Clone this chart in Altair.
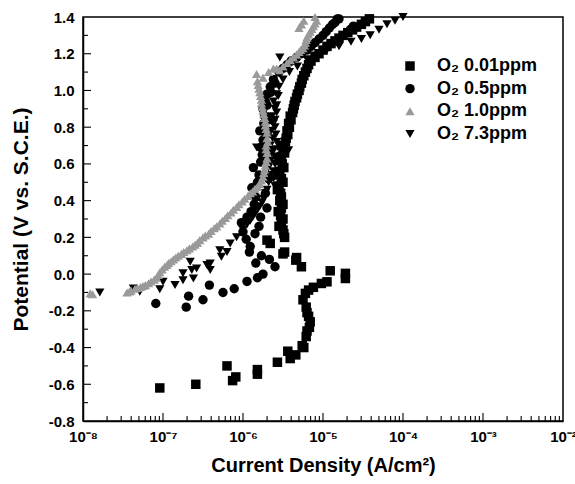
import altair as alt
import pandas as pd

series_names = ["O\u2082 0.01ppm", "O\u2082 0.5ppm", "O\u2082 1.0ppm", "O\u2082 7.3ppm"]

# log10(current density) and potential for each series
sq_logi = [-7.04, -6.59, -6.20, -6.13, -6.09, -5.82, -5.82, -5.57, -5.44, -5.41, -5.34, -5.26, -5.24,
           -5.21, -5.20, -5.17, -5.16, -5.18, -5.20, -5.21, -5.25, -5.22, -5.18, -5.12, -5.02, -4.95,
           -4.91, -4.72, -4.72, -5.27, -5.34, -5.33, -5.50, -5.48, -5.66, -5.48, -5.70,
           -5.50, -5.52, -5.53, -5.52, -5.54, -5.53, -5.55, -5.52, -5.54, -5.51, -5.52, -5.50, -5.47,
           -5.44, -5.42, -5.40, -5.38, -5.36, -5.33, -5.30, -5.27, -5.24, -5.20, -5.15, -5.05, -4.95,
           -4.85, -4.75, -4.63, -4.52, -4.42,
           -5.49, -5.55, -5.50, -5.56, -5.50, -5.52, -5.57, -5.50, -5.56, -5.49, -5.55, -5.48, -5.52,
           -5.46, -5.45, -5.43, -5.41, -5.37, -5.35, -5.32, -5.29, -5.26, -5.22, -5.18, -5.10, -5.00,
           -4.90, -4.80, -4.69, -4.58, -4.47]
sq_v = [-0.62, -0.60, -0.50, -0.58, -0.56, -0.52, -0.545, -0.48, -0.42, -0.46, -0.44, -0.39, -0.40,
        -0.34, -0.31, -0.29, -0.26, -0.23, -0.21, -0.18, -0.14, -0.105, -0.087, -0.072, -0.051, -0.042,
        0.018, 0.004, -0.024, 0.04, 0.076, 0.09, 0.11, 0.12, 0.167, 0.20, 0.185,
        0.24, 0.28, 0.32, 0.36, 0.40, 0.44, 0.48, 0.52, 0.56, 0.60, 0.64, 0.68, 0.72,
        0.76, 0.80, 0.84, 0.88, 0.92, 0.96, 1.00, 1.04, 1.08, 1.12, 1.16, 1.20, 1.24,
        1.27, 1.30, 1.33, 1.36, 1.39,
        0.22, 0.26, 0.30, 0.34, 0.38, 0.42, 0.46, 0.50, 0.54, 0.58, 0.62, 0.66, 0.70,
        0.74, 0.78, 0.82, 0.86, 0.90, 0.94, 0.98, 1.02, 1.06, 1.10, 1.14, 1.18, 1.22,
        1.255, 1.285, 1.315, 1.345, 1.375]

ci_logi = [-7.09, -6.71, -6.68, -6.50, -6.42, -6.25, -6.11, -5.95, -5.82, -5.75, -5.60, -5.67, -5.77,
           -5.84, -5.92, -5.91, -5.96, -6.00, -6.02, -5.95, -5.90, -5.86, -5.84, -5.89, -5.82, -5.80,
           -5.87, -5.78, -5.76, -5.78, -5.75, -5.79, -5.74, -5.73, -5.75, -5.72, -5.70, -5.66, -5.62,
           -5.55, -5.45, -5.33, -5.20, -5.10, -5.00, -4.92, -4.85, -4.80, -4.66, -4.62,
           -5.70, -5.72, -5.68, -5.70, -5.69, -5.71, -5.68, -5.70, -5.65, -5.60, -5.50, -5.40, -5.27,
           -5.15, -5.05, -4.96, -4.88, -4.82, -5.80, -5.85, -5.78]
ci_v = [-0.16, -0.18, -0.12, -0.14, -0.06, -0.10, -0.08, -0.04, -0.02, 0.00, 0.04, 0.08, 0.10,
        0.06, 0.12, 0.15, 0.19, 0.23, 0.28, 0.31, 0.34, 0.38, 0.42, 0.47, 0.50, 0.54,
        0.58, 0.61, 0.65, 0.69, 0.73, 0.78, 0.82, 0.86, 0.90, 0.94, 0.98, 1.02, 1.06,
        1.10, 1.14, 1.18, 1.22, 1.26, 1.30, 1.34, 1.37, 1.39, 1.33, 1.35,
        0.36, 0.44, 0.52, 0.60, 0.68, 0.76, 0.84, 0.92, 0.99, 1.04, 1.12, 1.16, 1.20,
        1.24, 1.28, 1.32, 1.36, 1.39, 0.26, 0.22, 0.31]

gr_logi = [-7.91, -7.88, -7.45, -7.40, -7.35, -7.28, -7.22, -7.15, -7.08, -7.04, -6.98, -6.93, -6.87,
           -6.81, -6.74, -6.67, -6.60, -6.54, -6.47, -6.40, -6.33, -6.26, -6.19, -6.12, -6.05, -5.98,
           -5.91, -5.85, -5.79, -5.75, -5.73, -5.71, -5.70, -5.71, -5.70, -5.70, -5.72, -5.73, -5.75,
           -5.77, -5.78, -5.80, -5.82, -5.83, -5.75, -5.62, -5.54, -5.45, -5.37, -5.30, -5.25, -5.22,
           -5.20, -5.16, -5.12, -5.08, -5.27, -5.10,
           -7.42, -7.32, -7.25, -7.18, -7.11, -7.06, -7.01, -6.95, -6.90, -6.84, -6.77, -6.70, -6.63,
           -6.57, -6.50, -6.43, -6.36, -6.29, -6.22, -6.15, -6.08, -6.01, -5.94, -5.88, -5.82, -5.77,
           -5.74, -5.72, -5.70, -5.71, -5.69, -5.71, -5.72, -5.74, -5.76, -5.77, -5.79, -5.81, -5.68,
           -5.58, -5.50, -5.41, -5.33, -5.28, -5.23, -5.21, -5.18, -5.14, -5.10, -5.30, -5.24]
gr_v = [-0.105, -0.11, -0.10, -0.09, -0.08, -0.07, -0.06, -0.04, -0.02, 0.01, 0.04, 0.06, 0.08,
        0.10, 0.12, 0.14, 0.16, 0.185, 0.21, 0.235, 0.26, 0.29, 0.32, 0.35, 0.38, 0.41,
        0.44, 0.465, 0.49, 0.53, 0.57, 0.61, 0.66, 0.70, 0.74, 0.77, 0.81, 0.85, 0.89,
        0.93, 0.97, 1.01, 1.05, 1.09, 1.07, 1.12, 1.11, 1.15, 1.18, 1.21, 1.23, 1.26,
        1.29, 1.32, 1.35, 1.38, 1.36, 1.40,
        -0.095, -0.075, -0.065, -0.05, -0.03, -0.005, 0.025, 0.05, 0.07, 0.09, 0.11, 0.13, 0.15,
        0.17, 0.20, 0.22, 0.25, 0.275, 0.305, 0.335, 0.365, 0.395, 0.425, 0.45, 0.475, 0.51,
        0.55, 0.59, 0.63, 0.68, 0.72, 0.79, 0.83, 0.87, 0.91, 0.95, 0.99, 1.03, 1.10,
        1.12, 1.13, 1.165, 1.195, 1.22, 1.245, 1.275, 1.305, 1.335, 1.365, 1.34, 1.38]

tr_logi = [-7.79, -7.37, -7.29, -7.04, -7.00, -6.85, -6.75, -6.75, -6.62, -6.64, -6.66, -6.58, -6.45,
           -6.41, -6.41, -6.27, -6.20, -6.29, -6.16, -6.08, -6.00, -5.91, -5.85, -5.79, -5.74, -5.70,
           -5.68, -5.66, -5.68, -5.65, -5.83, -5.43, -5.64, -5.66, -5.63, -5.65, -5.62, -5.64, -5.60,
           -5.62, -5.58, -5.55, -5.50, -5.42, -5.32, -5.54, -5.20, -5.10, -4.95, -4.80, -4.65, -4.52,
           -4.41, -4.30, -4.20, -4.10, -4.00,
           -5.62, -5.60, -5.61, -5.59, -5.60, -5.58, -5.56, -5.95, -5.88, -5.82, -5.76, -5.72, -5.60,
           -5.62, -5.60, -5.58, -5.60, -5.58]
tr_v = [-0.10, -0.078, -0.096, -0.083, -0.042, -0.06, -0.033, 0.004, -0.024, 0.022, 0.067, 0.03, 0.049,
        0.022, 0.058, 0.094, 0.12, 0.13, 0.167, 0.20, 0.24, 0.29, 0.33, 0.37, 0.41, 0.46,
        0.50, 0.54, 0.58, 0.62, 0.69, 0.675, 0.66, 0.70, 0.74, 0.78, 0.82, 0.86, 0.90,
        0.94, 0.98, 1.02, 1.06, 1.10, 1.13, 1.18, 1.17, 1.19, 1.22, 1.24, 1.265, 1.28,
        1.30, 1.33, 1.36, 1.38, 1.40,
        0.52, 0.60, 0.68, 0.76, 0.84, 0.92, 0.97, 0.27, 0.31, 0.35, 0.39, 0.44, 0.48,
        0.56, 0.64, 0.72, 0.80, 0.88]

x_major = [1e-8, 1e-7, 1e-6, 1e-5, 1e-4, 1e-3, 1e-2]
x_minor = [k * 10.0 ** e for e in range(-8, -2) for k in range(2, 10)]
y_major = [-0.8, -0.6, -0.4, -0.2, 0.0, 0.2, 0.4, 0.6, 0.8, 1.0, 1.2, 1.4]
y_minor = [-0.7, -0.5, -0.3, -0.1, 0.1, 0.3, 0.5, 0.7, 0.9, 1.1, 1.3]

rows = []
for name, li, vv in [(series_names[0], sq_logi, sq_v), (series_names[1], ci_logi, ci_v),
                     (series_names[3], tr_logi, tr_v), (series_names[2], gr_logi, gr_v)]:
    for a, b in zip(li, vv):
        rows.append({"series": name, "current": 10.0 ** a, "potential": b})
df = pd.DataFrame(rows)

FONT = "Liberation Sans"
xscale = alt.Scale(type="log", domain=[1e-8, 1e-2], nice=False)
yscale = alt.Scale(domain=[-0.8, 1.4], nice=False, zero=False)

shape_scale = alt.Scale(domain=series_names, range=["square", "circle", "triangle-up", "triangle-down"])
color_scale = alt.Scale(domain=series_names, range=["black", "black", "#9a9a9a", "black"])
size_scale = alt.Scale(domain=series_names, range=[90, 85, 14, 115])

sup = "['\u207b\u2078','\u207b\u2077','\u207b\u2076','\u207b\u2075','\u207b\u2074','\u207b\u00b3','\u207b\u00b2']"
xaxis = alt.Axis(values=x_major, ticks=False, grid=False, title="Current Density (A/cm\u00b2)",
                 labelExpr="'10' + " + sup + "[round(log(datum.value)/LN10)+8]",
                 labelFontSize=15, labelFont=FONT, labelFontWeight="bold", labelPadding=8,
                 labelColor="black", titleFontSize=20, titleFont=FONT, titleFontWeight="bold",
                 titlePadding=11, titleColor="black", domainColor="black", domainWidth=1.5,
                 labelFlush=False)
yaxis = alt.Axis(values=y_major, ticks=False, grid=False, title="Potential (V vs. S.C.E.)",
                 labelExpr="replace(format(datum.value, '.1f'), '\u2212', '-')",
                 labelFontSize=15, labelFont=FONT, labelFontWeight="bold", labelPadding=9,
                 labelColor="black", titleFontSize=21, titleFont=FONT, titleFontWeight="bold",
                 titlePadding=17, titleColor="black", domainColor="black", domainWidth=1.5,
                 labelFlush=False)

points = alt.Chart(df).mark_point(filled=True, opacity=1).encode(
    x=alt.X("current:Q", scale=xscale, axis=xaxis),
    y=alt.Y("potential:Q", scale=yscale, axis=yaxis),
    shape=alt.Shape("series:N", scale=shape_scale, legend=None),
    color=alt.Color("series:N", scale=color_scale, legend=None),
    size=alt.Size("series:N", scale=size_scale, legend=None),
)

leg_df = pd.DataFrame({"series": series_names})
leg_y = alt.Y("series:N", scale=alt.Scale(type="point", domain=series_names, range=[49, 117], padding=0),
              axis=None)
leg_pts = alt.Chart(leg_df).mark_point(filled=True, opacity=1).encode(
    x=alt.value(327), y=leg_y,
    shape=alt.Shape("series:N", scale=shape_scale, legend=None),
    color=alt.Color("series:N", scale=color_scale, legend=None),
    size=alt.Size("series:N", scale=size_scale, legend=None),
)
leg_txt = alt.Chart(leg_df).mark_text(align="left", baseline="middle", font=FONT, fontSize=18,
                                      fontWeight="bold", color="black").encode(
    x=alt.value(354), y=leg_y, text="series:N")

xmaj = alt.Chart(pd.DataFrame({"current": x_major[1:-1]})).mark_rule(color="black", strokeWidth=1.1).encode(
    x=alt.X("current:Q", scale=xscale, axis=xaxis), y=alt.value(404), y2=alt.value(396))
xmin = alt.Chart(pd.DataFrame({"current": x_minor})).mark_rule(color="black", strokeWidth=1.1).encode(
    x=alt.X("current:Q", scale=xscale, axis=xaxis), y=alt.value(404), y2=alt.value(399))
ymaj = alt.Chart(pd.DataFrame({"potential": y_major[1:-1]})).mark_rule(color="black", strokeWidth=1.1).encode(
    y=alt.Y("potential:Q", scale=yscale, axis=None), x=alt.value(0), x2=alt.value(8))
ymin = alt.Chart(pd.DataFrame({"potential": y_minor})).mark_rule(color="black", strokeWidth=1.1).encode(
    y=alt.Y("potential:Q", scale=yscale, axis=None), x=alt.value(0), x2=alt.value(5))

chart = alt.layer(xmin, xmaj, ymin, ymaj, points, leg_pts, leg_txt).resolve_scale(
    y="independent"
).properties(
    width=480, height=404,
    autosize=alt.AutoSizeParams(type="none"),
    padding={"left": 83, "top": 17, "right": 12, "bottom": 63},
    background="white",
).configure_view(stroke="black", strokeWidth=1.5)

chart.save("out.html", embed_options={"renderer": "svg", "actions": False})
